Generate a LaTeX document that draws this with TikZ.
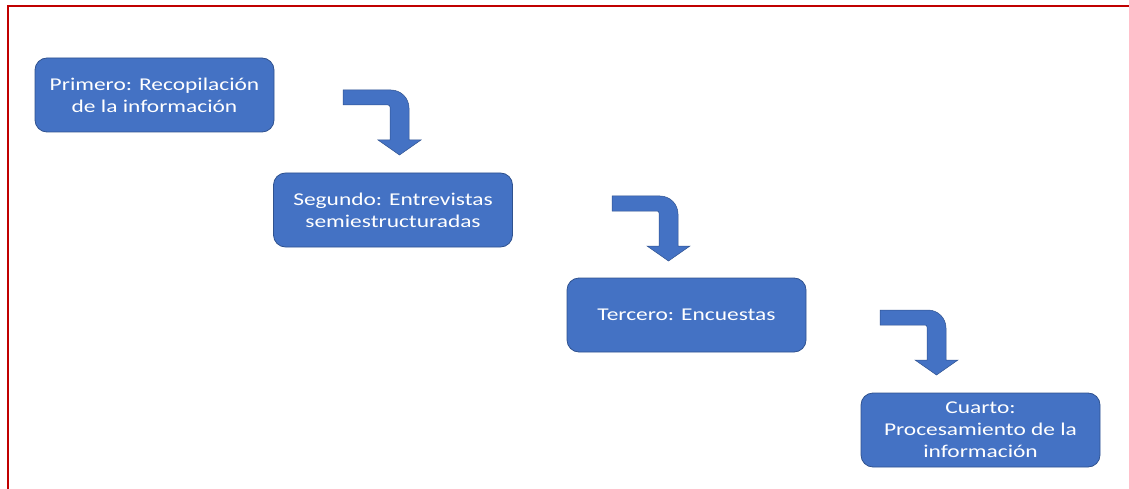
\documentclass[tikz,border=0pt]{standalone}
\usepackage{fontspec}
\setmainfont{Carlito}[FakeStretch=1.3]
\usetikzlibrary{positioning}

\definecolor{pasofill}{HTML}{4472C4}
\definecolor{pasoline}{HTML}{2F528F}
\definecolor{marco}{HTML}{C00000}

\tikzset{
	paso/.style={rectangle, rounded corners=12pt, draw=pasoline, line width=0.8pt, fill=pasofill,
		minimum width=239pt, minimum height=74pt, text=white, align=center,
		font=\fontsize{18}{22}\selectfont},
	flecha/.pic={
		% flecha doblada hacia abajo
		\draw[draw=pasoline, line width=0.5pt, fill=pasofill]
			(0,0) [rounded corners=18pt] -- (66,0) [sharp corners] -- (66,50) -- (78,50) -- (56.5,65)
			-- (35,50) -- (47,50) [rounded corners=2pt] -- (47,15) [sharp corners] -- (0,15) -- cycle;
	}
}

\begin{document}
\begin{tikzpicture}[x=1pt, y=-1pt]
	\useasboundingbox (0,0) rectangle (1129,489);

	% marco rojo
	\draw[marco, line width=2pt] (8,489) -- (8,6) -- (1129,6);

	% pasos
	\node[paso] (p1) at (154.5,95) {Primero: Recopilación\\de la información};
	\node[paso] (p2) at (393,210) {Segundo: Entrevistas\\semiestructuradas};
	\node[paso] (p3) at (686.5,315) {Tercero: Encuestas};
	\node[paso] (p4) at (980.5,430) {Cuarto:\\Procesamiento de la\\información};

	% flechas entre pasos
	\pic at (343,90) {flecha};
	\pic at (612,196) {flecha};
	\pic at (880,310) {flecha};
\end{tikzpicture}
\end{document}
